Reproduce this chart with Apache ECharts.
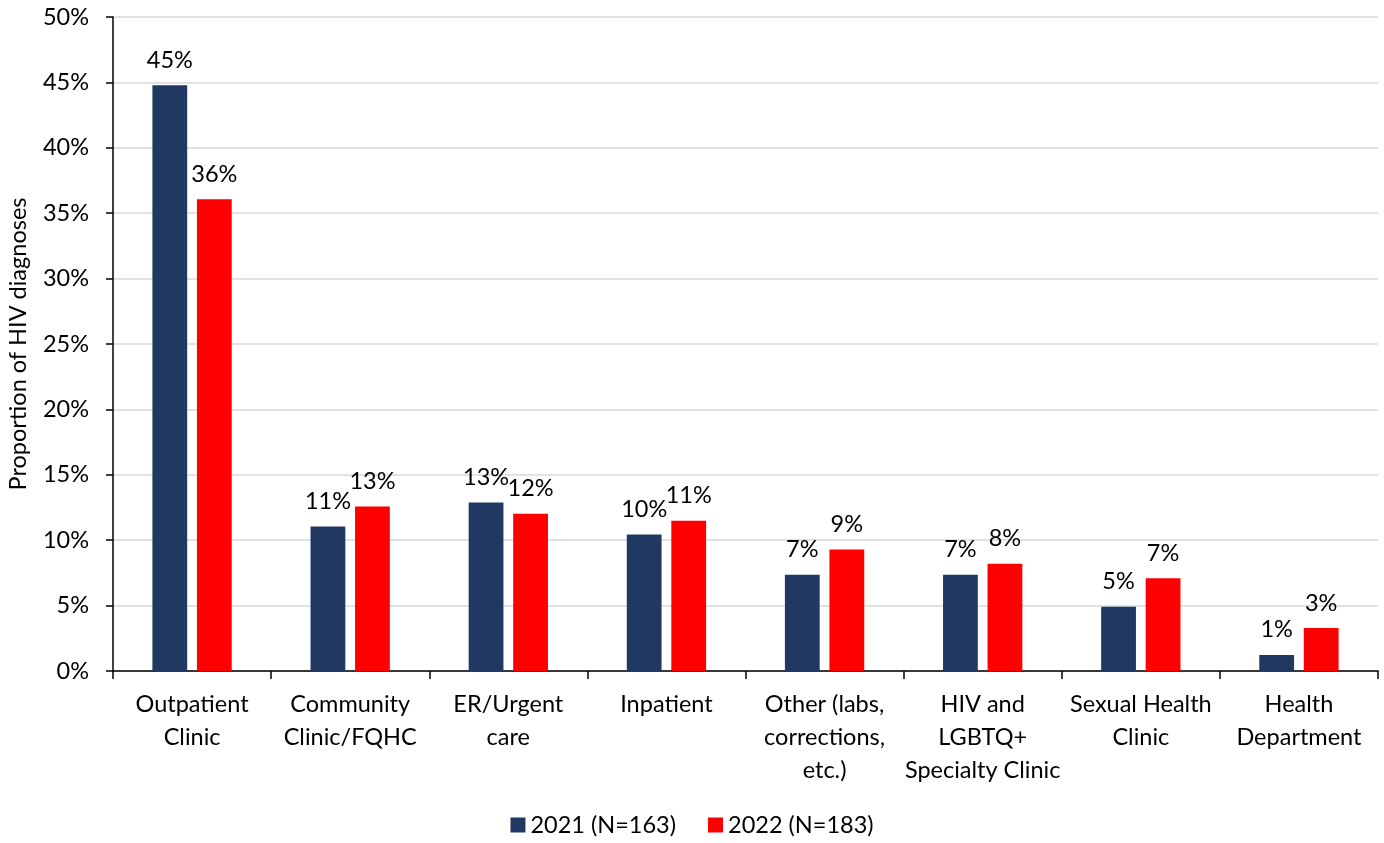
<!DOCTYPE html>
<html>
<head>
<meta charset="utf-8">
<script src="https://cdn.jsdelivr.net/npm/echarts@6/dist/echarts.min.js"></script>
<style>
  html, body { margin: 0; padding: 0; background: #ffffff; }
  #chart { width: 1384px; height: 843px; }
</style>
</head>
<body>
<div id="chart"></div>
<script>
// Site of HIV diagnosis, share of all diagnoses per year (%)
const categories = [
  'Outpatient\nClinic',
  'Community\nClinic/FQHC',
  'ER/Urgent\ncare',
  'Inpatient',
  'Other (labs,\ncorrections,\netc.)',
  'HIV and\nLGBTQ+\nSpecialty Clinic',
  'Sexual Health\nClinic',
  'Health\nDepartment'
];
const seriesNames = ['2021 (N=163)', '2022 (N=183)'];
const values2021 = [44.79, 11.04, 12.88, 10.43, 7.36, 7.36, 4.91, 1.23];
const values2022 = [36.07, 12.57, 12.02, 11.48, 9.29, 8.20, 7.10, 3.28];
const yTicks = { min: 0, max: 50, step: 5 };

const FONT = 'Lato';
const FS = 23.5;

const chart = echarts.init(document.getElementById('chart'), null, { renderer: 'canvas' });

const labelStyle = {
  show: true,
  position: 'top',
  distance: 13,
  color: '#000000',
  fontFamily: FONT,
  fontSize: FS,
  formatter: p => Math.round(p.value) + '%'
};

chart.setOption({
  backgroundColor: '#ffffff',
  animation: false,
  textStyle: { fontFamily: FONT, color: '#000000' },
  grid: { left: 113, right: 6, top: 17, bottom: 172, containLabel: false, outerBoundsMode: 'none' },
  legend: {
    data: seriesNames,
    top: 808,
    left: 'center',
    itemWidth: 15,
    itemHeight: 15,
    itemGap: 32,
    icon: 'rect',
    textStyle: { fontFamily: FONT, fontSize: FS, color: '#000000' }
  },
  xAxis: {
    type: 'category',
    data: categories,
    axisLine: { lineStyle: { color: '#000000', width: 1.5 } },
    axisTick: { show: true, length: 8, lineStyle: { color: '#000000', width: 1.5 } },
    axisLabel: {
      interval: 0,
      margin: 17,
      fontFamily: FONT,
      fontSize: FS,
      lineHeight: 33,
      color: '#000000',
      align: 'center'
    }
  },
  yAxis: {
    type: 'value',
    min: yTicks.min,
    max: yTicks.max,
    interval: yTicks.step,
    name: 'Proportion of HIV diagnoses',
    nameLocation: 'middle',
    nameGap: 83,
    nameTextStyle: { fontFamily: FONT, fontSize: FS, color: '#000000' },
    axisLine: { show: true, lineStyle: { color: '#000000', width: 1.5 } },
    axisTick: { show: true, length: 7, lineStyle: { color: '#000000', width: 1.5 } },
    axisLabel: {
      margin: 24,
      fontFamily: FONT,
      fontSize: FS,
      color: '#000000',
      formatter: '{value}%'
    },
    splitLine: { show: true, lineStyle: { color: '#d9d9d9', width: 1.5 } }
  },
  series: [
    {
      name: seriesNames[0],
      type: 'bar',
      data: values2021,
      barWidth: '22%',
      barGap: '28%',
      itemStyle: { color: '#213962' },
      label: labelStyle
    },
    {
      name: seriesNames[1],
      type: 'bar',
      data: values2022,
      barWidth: '22%',
      barGap: '28%',
      itemStyle: { color: '#ff0000' },
      label: labelStyle
    }
  ]
});
</script>
</body>
</html>
